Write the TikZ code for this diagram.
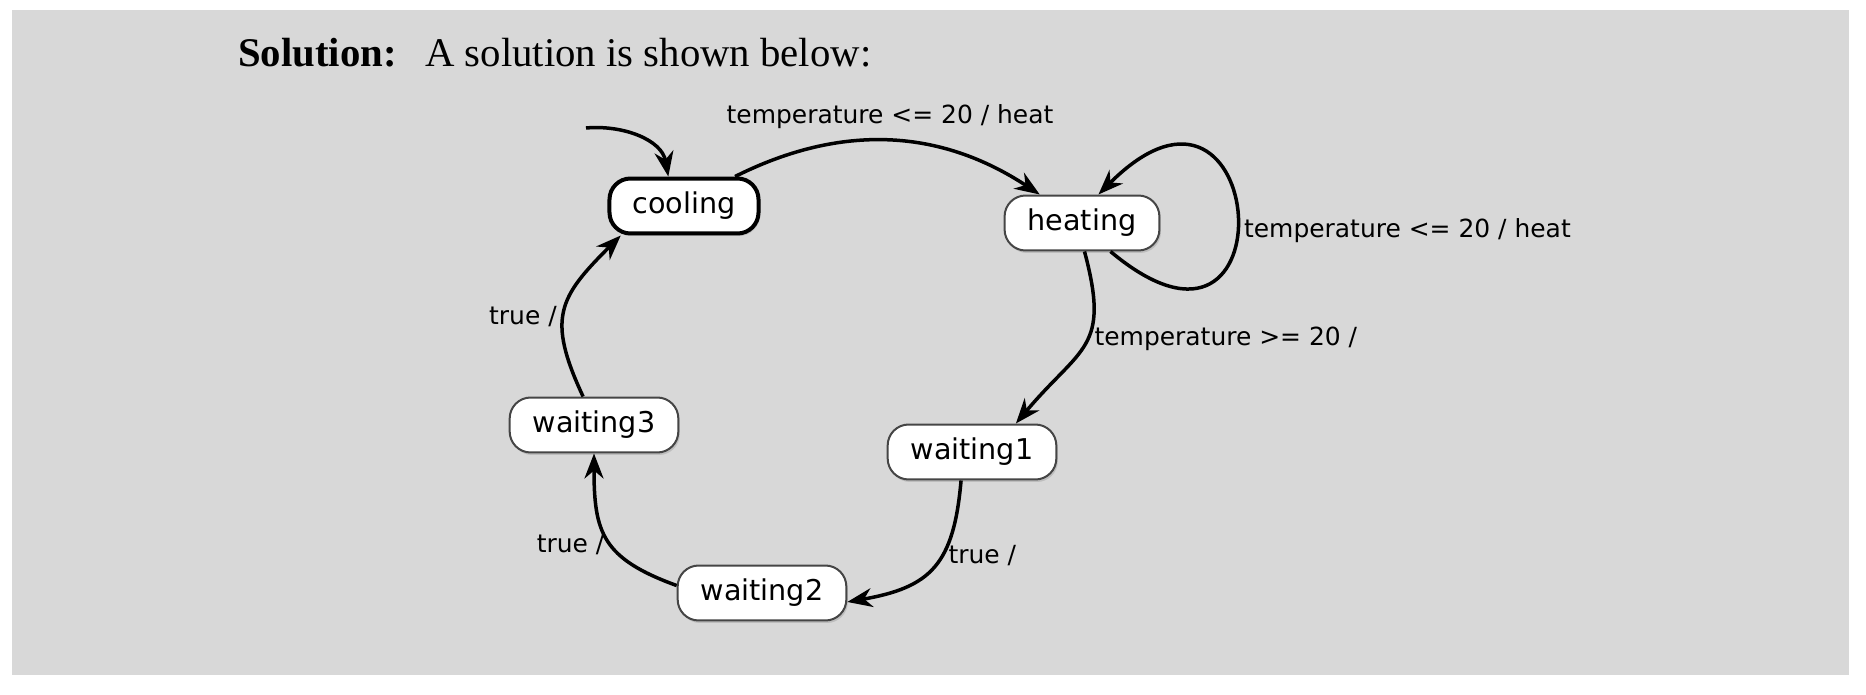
\documentclass[tikz,border=0pt]{standalone}
\usepackage{fontspec}
\setmainfont{Liberation Serif}
\newfontfamily\statefont{DejaVu Sans}
\usetikzlibrary{arrows.meta,shadows,positioning}
\definecolor{panelgray}{HTML}{D8D8D8}
\definecolor{stateline}{HTML}{454545}

\begin{document}
\begin{tikzpicture}[x=0.02cm,y=0.02cm]
    \useasboundingbox (0,0) rectangle (1866,694);
    \fill[panelgray] (12,19) rectangle (1849,684);
    \begin{scope}[>={Stealth[length=0.5cm,width=0.38cm,inset=0.16cm]},
        mystate/.style={rectangle, rounded corners=0.42cm, draw=stateline, line width=0.04cm, fill=white,
            minimum height=1.1cm, inner xsep=0.46cm, font=\statefont\fontsize{16.3}{19}\selectfont,
            drop shadow={opacity=0.3, shadow xshift=0.03cm, shadow yshift=-0.05cm}},
        mystart/.style={mystate, draw=black, line width=0.08cm},
        mytrans/.style={->, line width=0.07cm},
        mylabel/.style={font=\statefont\fontsize{14.2}{17}\selectfont, inner sep=0.1cm}]
    \node [anchor=base west, font=\fontsize{23.2}{28}\selectfont] (title) at (232,627)
        {\textbf{Solution:}\hspace{0.7em}A solution is shown below:};
    \node [mystart] (cooling) at (684,488) {cooling};
    \node [mystate] (heating) at (1082,471) {heating};
    \node [mystate] (waiting1) at (972,242) {waiting1};
    \node [mystate] (waiting2) at (762,101) {waiting2};
    \node [mystate] (waiting3) at (594,269) {waiting3};
    \coordinate (initpt) at (586,566);
    % top of the cycle
    \draw [mytrans] (initpt) to[out=5, in=100] (cooling.118);
    \draw [mytrans] (cooling.30) to[bend left=30]
        node [mylabel, above=0.1cm] {temperature <= 20 / heat} (heating.146);
    \draw [mytrans] (heating.-45) to[out=-40, in=45, distance=4.8cm]
        node [mylabel, pos=0.46, right] {temperature <= 20 / heat} (heating.60);
    % way back down and round
    \draw [mytrans] (heating.-85) to[out=-75, in=50, looseness=1.4]
        node [mylabel, pos=0.45, right] {temperature >= 20 /} (waiting1.33);
    \draw [mytrans] (waiting1.-111) to[out=-95, in=10, looseness=1.3]
        node [mylabel, pos=0.4, right] {true /} (waiting2.-6);
    \draw [mytrans] (waiting2.175) to[out=160, in=-90, looseness=1.3]
        node [mylabel, pos=0.45, left] {true /} (waiting3.south);
    \draw [mytrans] (waiting3.111) to[out=115, in=225, looseness=1.35]
        node [mylabel, pos=0.45, left] {true /} (cooling.205);
    \end{scope}
\end{tikzpicture}
\end{document}
